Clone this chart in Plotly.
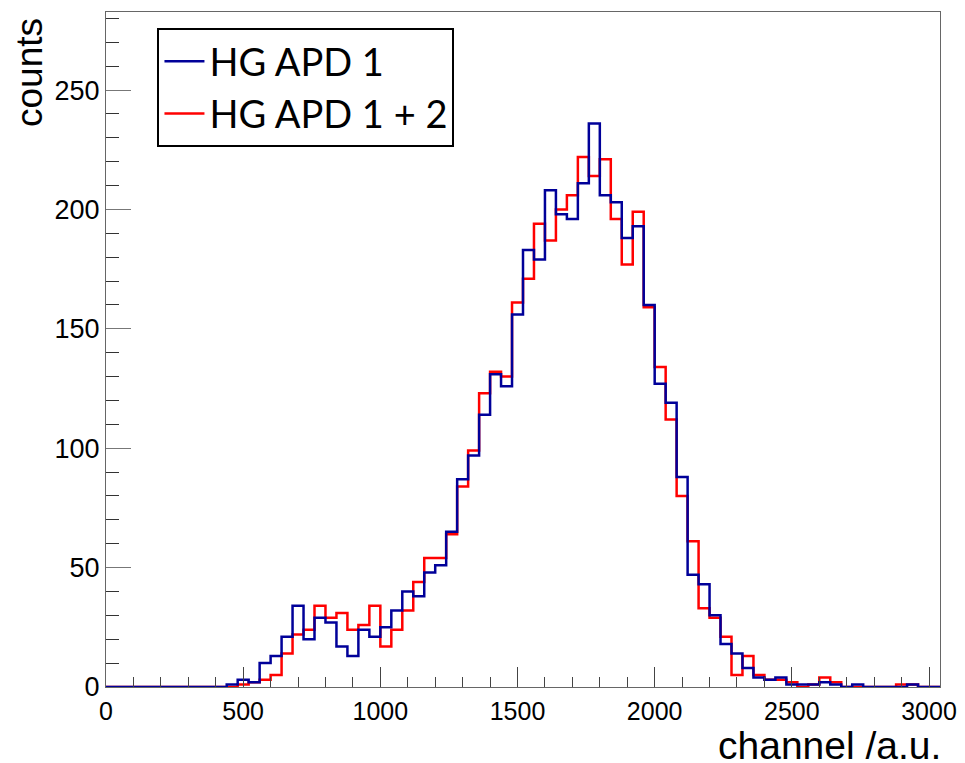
import plotly.graph_objects as go

# ---- data ----
bin_width = 40          # channel units per bin
n_bins = 76             # 0 .. 3040
series_names = ["HG APD 1", "HG APD 1 + 2"]

apd1_counts = [
    0, 0, 0, 0, 0, 0, 0, 0, 0, 0,
    0, 1, 3, 2, 10, 13, 21, 34, 20, 29,
    27, 17, 13, 24, 21, 25, 32, 40, 38, 48,
    51, 65, 87, 97, 114, 131, 126, 156, 183, 179,
    208, 198, 196, 211, 236, 206, 203, 188, 193, 160,
    127, 119, 88, 47, 43, 30, 18, 14, 8, 4,
    3, 4, 1, 1, 1, 2, 1, 0, 1, 0,
    0, 0, 0, 1, 0, 0,
]
apd12_counts = [
    0, 0, 0, 0, 0, 0, 0, 0, 0, 0,
    0, 0, 1, 2, 3, 5, 14, 22, 24, 34,
    29, 31, 24, 26, 34, 17, 24, 32, 44, 54,
    54, 64, 84, 99, 123, 132, 130, 161, 171, 194,
    187, 200, 206, 222, 214, 221, 196, 177, 199, 159,
    134, 112, 80, 61, 33, 29, 21, 5, 13, 5,
    3, 3, 2, 0, 1, 4, 2, 0, 0, 0,
    0, 0, 1, 1, 0, 0,
]

x_ticks = [0, 500, 1000, 1500, 2000, 2500, 3000]
y_ticks = [0, 50, 100, 150, 200, 250]

edges = [i * bin_width for i in range(n_bins + 1)]


def step_y(counts):
    return list(counts) + [counts[-1]]


BLUE = "#000099"
RED = "#ff0000"
SANS = "Liberation Sans, Arial, sans-serif"

fig = go.Figure()
fig.add_trace(go.Scatter(
    x=edges, y=step_y(apd12_counts), mode="lines", line_shape="hv",
    line=dict(color=RED, width=2.5), name=series_names[1], legendrank=2,
))
fig.add_trace(go.Scatter(
    x=edges, y=step_y(apd1_counts), mode="lines", line_shape="hv",
    line=dict(color=BLUE, width=2.5), name=series_names[0], legendrank=1,
))

fig.update_xaxes(
    range=[0, n_bins * bin_width], tickvals=x_ticks, ticktext=[str(v) for v in x_ticks],
    ticks="inside", ticklen=20, tickwidth=1, tickcolor="#444",
    minor=dict(dtick=100, ticks="inside", ticklen=10, tickcolor="#444", tickwidth=1),
    showgrid=False, zeroline=False, showline=True, linecolor="#666", linewidth=1,
    mirror=True, tickfont=dict(family=SANS, size=25, color="black"),
    ticklabelstandoff=2,
)
fig.update_yaxes(
    range=[0, 282.7], tickvals=y_ticks, ticktext=[str(v) for v in y_ticks],
    ticks="inside", ticklen=25, tickwidth=1, tickcolor="#777",
    minor=dict(dtick=10, ticks="inside", ticklen=13, tickcolor="#333", tickwidth=1),
    showgrid=False, zeroline=False, showline=True, linecolor="#666", linewidth=1,
    mirror=True, tickfont=dict(family=SANS, size=27, color="black"),
)

fig.add_annotation(
    text="counts", xref="paper", yref="paper", x=0, y=1, xanchor="right", yanchor="top",
    xshift=-54, yshift=-4, textangle=-90, showarrow=False,
    font=dict(family=SANS, size=37, color="black"),
)
fig.add_annotation(
    text="channel /a.u.", xref="paper", yref="paper", x=1, y=0, xanchor="right", yanchor="top",
    yshift=-36, xshift=2, showarrow=False, borderpad=0,
    font=dict(family=SANS, size=39, color="black"),
)

# The page body has an 8px margin, so the figure is sized to the remaining viewport.
fig.update_layout(
    width=957, height=755,
    margin=dict(l=97.5, r=24.5, t=4, b=76),
    paper_bgcolor="white", plot_bgcolor="white",
    showlegend=True,
    legend=dict(
        x=0.0617, y=0.9763, xanchor="left", yanchor="top",
        bgcolor="white", bordercolor="black", borderwidth=2,
        font=dict(family="Lato, sans-serif", size=38, color="black"),
        itemwidth=40, tracegroupgap=0,
    ),
)

fig.write_html("out.html")
